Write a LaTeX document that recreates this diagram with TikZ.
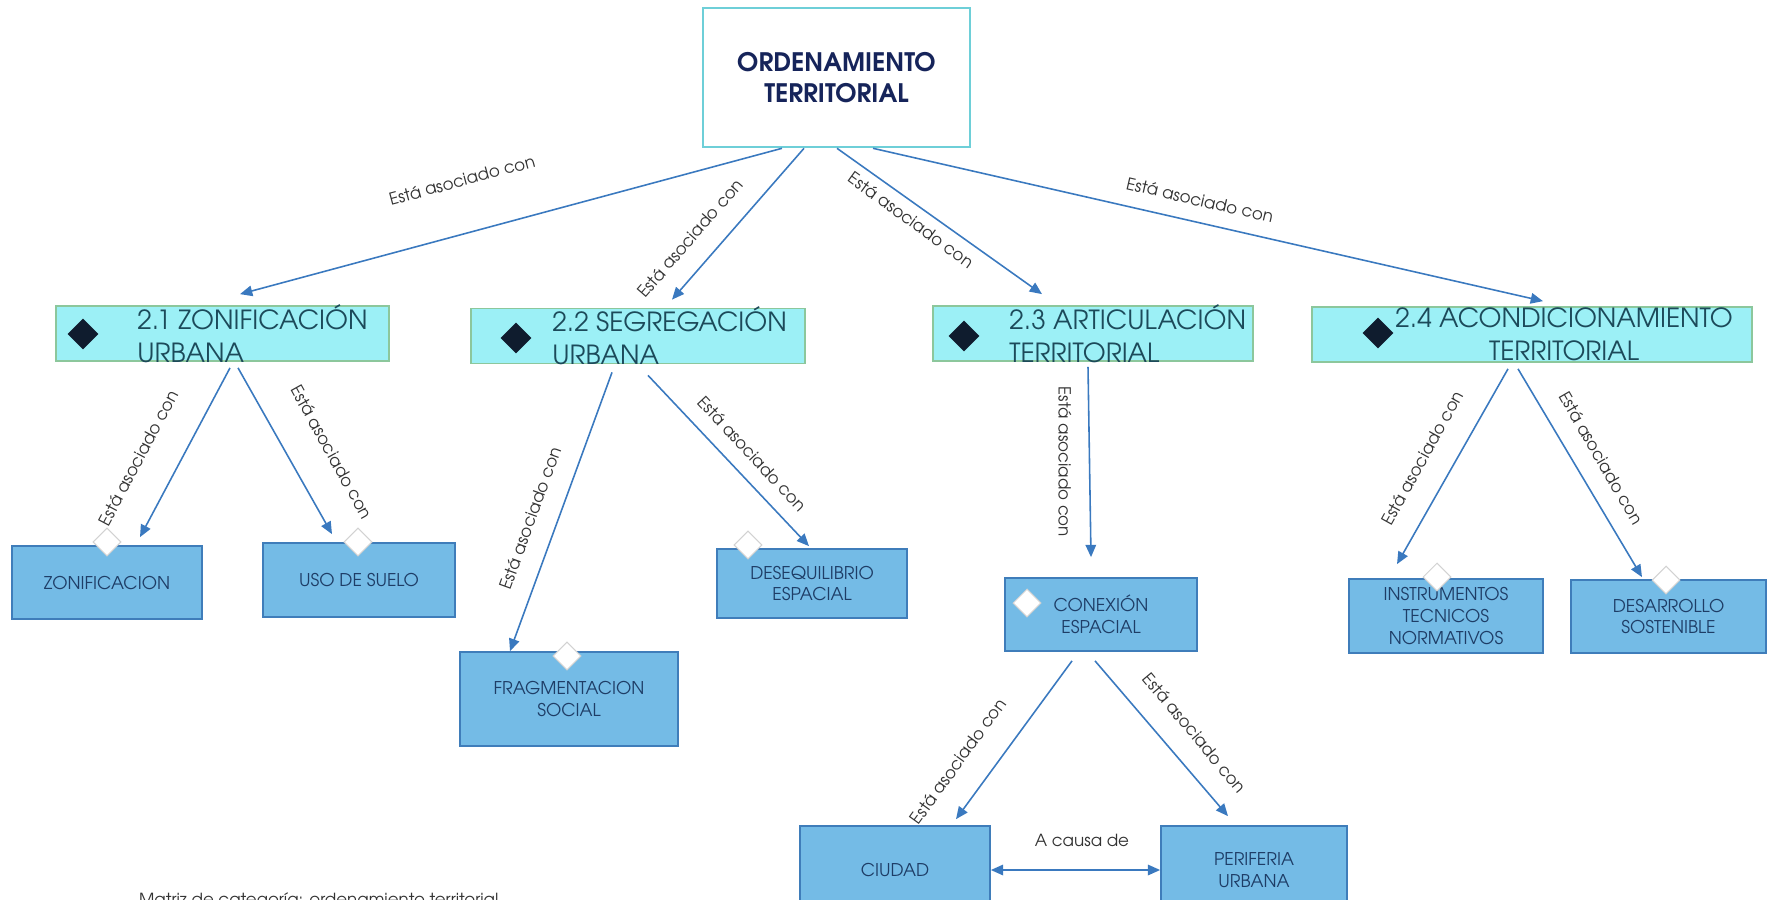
\documentclass[tikz,border=0pt]{standalone}
\usepackage{fontspec}
\setmainfont{TeX Gyre Adventor}
\usetikzlibrary{arrows.meta,calc,shapes.geometric}

\definecolor{enlace}{HTML}{3A79BF}
\definecolor{bordesup}{HTML}{6ECFD8}
\definecolor{azultitulo}{HTML}{16245A}
\definecolor{cian}{HTML}{9CF0F6}
\definecolor{bordecat}{HTML}{8CC79C}
\definecolor{textocat}{HTML}{1C4A5A}
\definecolor{azulhoja}{HTML}{74BBE6}
\definecolor{bordehoja}{HTML}{3F7DBA}
\definecolor{textohoja}{HTML}{1E3D66}
\definecolor{rombonegro}{HTML}{0F1C2E}
\definecolor{gristexto}{HTML}{333333}

\tikzset{
  link/.style={enlace, line width=0.9pt, -{Triangle[length=7pt,width=6pt]}},
  dlink/.style={enlace, line width=0.9pt, {Triangle[length=7pt,width=6pt]}-{Triangle[length=7pt,width=6pt]}},
  rotulo/.style={font=\fontsize{9.5}{11}\selectfont, text=gristexto, inner sep=1pt},
  categoria/.style={draw=bordecat, fill=cian, line width=1pt, minimum height=1.1cm},
  cattexto/.style={font=\fontsize{15}{18.7}\selectfont, text=textocat, inner sep=0pt},
  hoja/.style={draw=bordehoja, fill=azulhoja, line width=1pt, text=textohoja, align=center,
    font=\fontsize{10}{12.5}\selectfont},
  rombo/.style={diamond, fill=rombonegro, minimum size=0.62cm, inner sep=0pt},
  rombob/.style={diamond, fill=white, draw=gray!35, line width=0.6pt, minimum size=0.56cm, inner sep=0pt}
}

\begin{document}
\begin{tikzpicture}[x=0.02cm, y=-0.02cm]
    \useasboundingbox (0,0) rectangle (1767,899);
    %%Nodo central
    \node[draw=bordesup, line width=1.5pt, fill=white, minimum width=5.34cm, minimum height=2.78cm,
      align=center, text=azultitulo, font=\bfseries\fontsize{14.5}{18}\selectfont]
      (ot) at (836.5,77.5) {ORDENAMIENTO\\TERRITORIAL};

    %%Categorias
    \node[categoria, minimum width=6.66cm] (c21) at (222.5,333.5) {};
    \node[categoria, minimum width=6.68cm] (c22) at (638,336) {};
    \node[categoria, minimum width=6.4cm] (c23) at (1093,333.5) {};
    \node[categoria, minimum width=8.8cm] (c24) at (1532,334.5) {};
    \node[rombo] (r21) at (83,334) {};
    \node[rombo] (r22) at (516,338) {};
    \node[rombo] (r23) at (964,336) {};
    \node[rombo] (r24) at (1378,333) {};
    \node[cattexto, anchor=west, align=left] (t21) at (137,333.5) {2.1 ZONIFICACIÓN\\URBANA};
    \node[cattexto, anchor=west, align=left] (t22) at (552,336) {2.2 SEGREGACIÓN\\URBANA};
    \node[cattexto, anchor=west, align=left] (t23) at (1009,333.5) {2.3 ARTICULACIÓN\\TERRITORIAL};
    \node[cattexto, anchor=west, align=center] (t24) at (1395,334.5) {2.4 ACONDICIONAMIENTO\\TERRITORIAL};

    %%Subcategorias
    \node[hoja, minimum width=3.8cm, minimum height=1.46cm] (zon) at (107,582.5) {ZONIFICACION};
    \node[hoja, minimum width=3.84cm, minimum height=1.48cm] (uso) at (359,580) {USO DE SUELO};
    \node[hoja, minimum width=3.8cm, minimum height=1.38cm] (des) at (812,583.5) {DESEQUILIBRIO\\ESPACIAL};
    \node[hoja, minimum width=4.36cm, minimum height=1.88cm] (fra) at (569,699) {FRAGMENTACION\\SOCIAL};
    \node[hoja, minimum width=3.84cm, minimum height=1.46cm] (con) at (1101,614.5) {CONEXIÓN\\ESPACIAL};
    \node[hoja, minimum width=3.88cm, minimum height=1.48cm] (ins) at (1446,616) {INSTRUMENTOS\\TECNICOS\\NORMATIVOS};
    \node[hoja, minimum width=3.9cm, minimum height=1.46cm] (dso) at (1668.5,616.5) {DESARROLLO\\SOSTENIBLE};
    \node[hoja, minimum width=3.8cm, minimum height=1.76cm] (ciu) at (895,870) {CIUDAD};
    \node[hoja, minimum width=3.72cm, minimum height=1.76cm] (per) at (1254,870) {PERIFERIA\\URBANA};
    \node[rombob] (b1) at (107,542) {};
    \node[rombob] (b2) at (358,542) {};
    \node[rombob] (b3) at (748,545) {};
    \node[rombob] (b4) at (567,656) {};
    \node[rombob] (b5) at (1027,603) {};
    \node[rombob] (b6) at (1437,577) {};
    \node[rombob] (b7) at (1666,580) {};

    %%Conectores
    \draw[link] ($(ot.south)+(-54.5,0)$) -- ($(c21.north)+(17.5,-11)$);
    \draw[link] ($(ot.south)+(-32.5,0)$) -- ($(c22.north)+(34,-8)$);
    \draw[link] ($(ot.south)+(0.5,0)$) -- ($(c23.north)+(-51,-11)$);
    \draw[link] ($(ot.south)+(36.5,0)$) -- ($(c24.north)+(11,-5)$);
    \draw[link] ($(c21.south)+(7.5,6)$) -- ($(zon.north)+(33,-8)$);
    \draw[link] ($(c21.south)+(15.5,6)$) -- ($(uso.north)+(-27,-8)$);
    \draw[link] ($(c22.south)+(-26,8)$) -- ($(fra.north)+(-59,0)$);
    \draw[link] ($(c22.south)+(10,11)$) -- ($(des.north)+(-3,-2)$);
    \draw[link] ($(c23.south)+(-5,5)$) -- ($(con.north)+(-10,-20)$);
    \draw[link] ($(c24.south)+(-24,6)$) -- ($(ins.north)+(-49,-14)$);
    \draw[link] ($(c24.south)+(-14,6)$) -- ($(dso.north)+(-26.5,-2)$);
    \draw[link] ($(con.south)+(-29,9)$) -- ($(ciu.north)+(61,-6)$);
    \draw[link] ($(con.south)+(-6,9)$) -- ($(per.north)+(-26,-9)$);
    \draw[dlink] (ciu.east) -- (per.west);

    %%Rotulos
    \node[rotulo, rotate=15] (e1) at (462,180) {Está asociado con};
    \node[rotulo, rotate=49] (e2) at (690,238) {Está asociado con};
    \node[rotulo, rotate=-36] (e3) at (911,220) {Está asociado con};
    \node[rotulo, rotate=-13] (e4) at (1200,200) {Está asociado con};
    \node[rotulo, rotate=62] (e5) at (138,458) {Está asociado con};
    \node[rotulo, rotate=-61] (e6) at (332,452) {Está asociado con};
    \node[rotulo, rotate=70] (e7) at (530,518) {Está asociado con};
    \node[rotulo, rotate=-47] (e8) at (752,454) {Está asociado con};
    \node[rotulo, rotate=-90] (e9) at (1065,462) {Está asociado con};
    \node[rotulo, rotate=61] (e10) at (1422,458) {Está asociado con};
    \node[rotulo, rotate=-60] (e11) at (1601,458) {Está asociado con};
    \node[rotulo, rotate=54] (e12) at (958,761) {Está asociado con};
    \node[rotulo, rotate=-50] (e13) at (1195,733) {Está asociado con};
    \node[rotulo] (e14) at (1082,840) {A causa de};
    \node[rotulo, anchor=base west] (pie) at (137,905)
      {Matriz de categoría: ordenamiento territorial};
\end{tikzpicture}
\end{document}
